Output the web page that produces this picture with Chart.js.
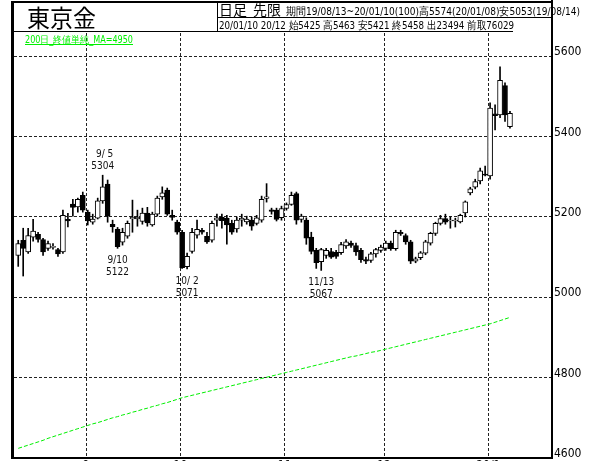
<!DOCTYPE html>
<html>
<head>
<meta charset="utf-8">
<script src="https://cdn.jsdelivr.net/npm/chart.js@4/dist/chart.umd.min.js"></script>
<style>
  html, body { margin: 0; padding: 0; background: #fff; }
  #c { display: block; }
</style>
</head>
<body>
<canvas id="c" width="590" height="461"></canvas>
<script>
// 東京金 日足 先限 19/08/13 ~ 20/01/10 (100 days)
const dates = [
  '19/08/13','19/08/14','19/08/15','19/08/16','19/08/19','19/08/20','19/08/21','19/08/22','19/08/23','19/08/26',
  '19/08/27','19/08/28','19/08/29','19/08/30','19/09/02','19/09/03','19/09/04','19/09/05','19/09/06','19/09/09',
  '19/09/10','19/09/11','19/09/12','19/09/13','19/09/17','19/09/18','19/09/19','19/09/20','19/09/24','19/09/25',
  '19/09/26','19/09/27','19/09/30','19/10/01','19/10/02','19/10/03','19/10/04','19/10/07','19/10/08','19/10/09',
  '19/10/10','19/10/11','19/10/15','19/10/16','19/10/17','19/10/18','19/10/21','19/10/23','19/10/24','19/10/25',
  '19/10/28','19/10/29','19/10/30','19/10/31','19/11/01','19/11/05','19/11/06','19/11/07','19/11/08','19/11/11',
  '19/11/12','19/11/13','19/11/14','19/11/15','19/11/18','19/11/19','19/11/20','19/11/21','19/11/22','19/11/25',
  '19/11/26','19/11/27','19/11/28','19/11/29','19/12/02','19/12/03','19/12/04','19/12/05','19/12/06','19/12/09',
  '19/12/10','19/12/11','19/12/12','19/12/13','19/12/16','19/12/17','19/12/18','19/12/19','19/12/20','19/12/23',
  '19/12/24','19/12/25','19/12/26','19/12/27','19/12/30','20/01/06','20/01/07','20/01/08','20/01/09','20/01/10'
];

const opens = [
  5104,5142,5113,5150,5157,5144,5122,5124,5119,5113, 5194,5232,5225,5254,5212,5187,5197,5240,5282,5182,
  5170,5137,5152,5195,5195,5189,5210,5180,5207,5250, 5267,5204,5187,5162,5076,5114,5155,5167,5152,5142,
  5192,5199,5197,5184,5170,5192,5188,5192,5184,5192, 5246,5218,5217,5198,5221,5231,5258,5194,5192,5150,
  5117,5089,5104,5114,5112,5111,5128,5135,5129,5117, 5094,5092,5108,5117,5122,5135,5121,5162,5154,5138,
  5090,5099,5110,5135,5159,5184,5196,5190,5190,5188, 5210,5260,5274,5290,5307,5302,5457,5454,5527,5425
];
const highs = [
  5142,5172,5172,5194,5162,5147,5140,5134,5122,5217, 5209,5244,5247,5262,5217,5207,5247,5304,5292,5192,
  5174,5172,5190,5242,5217,5222,5224,5212,5252,5275, 5272,5217,5192,5167,5110,5172,5192,5172,5162,5190,
  5207,5207,5204,5192,5200,5207,5202,5200,5204,5252, 5283,5222,5222,5227,5235,5262,5262,5207,5198,5162,
  5122,5122,5122,5122,5117,5137,5144,5140,5135,5122, 5100,5112,5122,5130,5140,5140,5167,5167,5158,5142,
  5100,5114,5142,5162,5187,5204,5207,5200,5197,5207, 5240,5274,5294,5322,5327,5484,5479,5574,5534,5463
];
const lows = [
  5077,5053,5109,5140,5137,5104,5117,5120,5102,5109, 5175,5202,5212,5212,5180,5182,5195,5234,5187,5162,
  5122,5130,5147,5162,5177,5182,5177,5177,5202,5244, 5204,5192,5157,5072,5071,5110,5147,5157,5134,5137,
  5177,5172,5132,5157,5162,5177,5182,5167,5180,5187, 5237,5207,5190,5192,5217,5229,5182,5187,5132,5108,
  5072,5067,5097,5097,5097,5107,5122,5124,5104,5087, 5084,5087,5100,5112,5117,5117,5117,5154,5132,5084,
  5086,5094,5106,5130,5154,5180,5182,5172,5175,5185, 5200,5255,5270,5282,5302,5294,5417,5447,5438,5421
];
const closes = [
  5134,5122,5154,5165,5144,5113,5134,5127,5108,5204, 5190,5224,5244,5217,5190,5195,5240,5275,5202,5175,
  5126,5162,5184,5199,5200,5210,5185,5207,5247,5260, 5207,5199,5162,5074,5102,5162,5169,5162,5138,5184,
  5198,5191,5180,5162,5192,5197,5195,5177,5198,5244, 5250,5214,5194,5221,5231,5254,5192,5202,5147,5114,
  5086,5119,5117,5100,5102,5131,5138,5129,5113,5094, 5090,5108,5119,5125,5135,5121,5162,5158,5138,5090,
  5096,5111,5138,5159,5184,5196,5187,5192,5192,5204, 5238,5270,5288,5315,5304,5471,5452,5540,5454,5458
];
// 200日 終値単純移動平均
const ma200 = [
  4624,4628,4632,4636,4640,4644,4649,4653,4657,4661,4665,4669,4673,4677,4681,
  4685,4688,4692,4696,4700,4703,4707,4710,4714,4717,4721,4724,4728,4731,4735,4738,4742,4746,4750,
  4753,4756,4759,4762,4765,4768,4771,4774,4777,4780,4783,4786,4789,4792,4795,4798,4801,4804,4807,4810,4813,
  4816,4819,4822,4825,4828,4831,4834,4837,4840,4843,4846,4849,4852,4854,4857,4860,4863,4865,4868,4871,
  4874,4877,4880,4883,4886,4889,4892,4895,4898,4901,4904,4907,4910,4913,4916,4919,4922,4925,4928,4931,4934,
  4938,4942,4946,4950
];

// month boundaries (index of first trading day) and their labels
const monthStarts = [14, 33, 54, 74, 95];
const monthLabels = ['9', '10', '11', '12', '20/1'];
const yTicks = [4600, 4800, 5000, 5200, 5400, 5600];

// marked highs / lows
const marks = [
  { i: 17, date: '9/ 5', value: 5304, above: true },
  { i: 20, date: '9/10', value: 5122, above: false },
  { i: 34, date: '10/ 2', value: 5071, above: false },
  { i: 61, date: '11/13', value: 5067, above: false }
];

const NARROW = "'Liberation Sans Narrow', 'DejaVu Sans Condensed', 'Liberation Sans', sans-serif";
const JP = "'Noto Sans CJK JP', 'Noto Sans', sans-serif";
const MA_GREEN = '#00f000';

const bodyData = opens.map((o, i) => ({ x: i, y: [o, closes[i]] }));
const wickData = highs.map((h, i) => ({ x: i, y: [lows[i], h] }));
const maData = ma200.map((v, i) => ({ x: i, y: v }));

const sheet = {
    id: 'sheet',
    beforeDraw(chart) {
        const ctx = chart.ctx;
        ctx.save();
        ctx.fillStyle = '#fff';
        ctx.fillRect(0, 0, chart.width, chart.height);
        ctx.restore();
    },
    afterDraw(chart) {
        const ctx = chart.ctx;
        const { left, right, bottom } = chart.chartArea;
        const xs = chart.scales.x;
        const ys = chart.scales.y;
        ctx.save();

        // frame
        ctx.fillStyle = '#000';
        ctx.fillRect(left - 3, 1, 3, bottom);              // left
        ctx.fillRect(right, 0, 2, bottom + 1);            // right
        ctx.fillRect(left - 3, bottom - 1, right - left + 5, 2); // bottom
        ctx.fillRect(left - 3, 1, right - left + 5, 2);   // top
        ctx.fillRect(left - 3, 31, 502, 1);               // header bottom
        ctx.fillRect(217, 2, 1, 30);                      // header divider
        ctx.fillRect(218, 17, right - 218, 1);            // row 1 underline

        // header texts
        ctx.textBaseline = 'alphabetic';
        ctx.textAlign = 'left';
        ctx.font = '24px ' + JP;
        ctx.fillText('東京金', 27, 27, 69);
        ctx.font = '14px ' + JP;
        ctx.fillText('日足  先限', 219, 15, 62);
        ctx.font = '11px ' + NARROW;
        ctx.fillText('期間19/08/13~20/01/10(100)高5574(20/01/08)安5053(19/08/14)', 286, 15, 294);
        ctx.fillText('20/01/10 20/12 始5425 高5463 安5421 終5458 出23494 前取76029', 219, 29, 295);

        // MA caption
        ctx.fillStyle = MA_GREEN;
        ctx.font = '10px ' + NARROW;
        ctx.fillText('200日_終値単純_MA=4950', 25, 43, 108);
        ctx.fillRect(25, 44, 108, 1);

        // high / low marks
        ctx.fillStyle = '#111';
        ctx.font = '10px ' + NARROW;
        ctx.textAlign = 'center';
        marks.forEach(m => {
            const x = xs.getPixelForValue(m.i);
            const y = ys.getPixelForValue(m.value);
            if (m.above) {
                ctx.fillText(m.date, x + 2, y - 18);
                ctx.fillText(String(m.value), x, y - 6);
            } else {
                ctx.fillText(m.date, x, y + 15);
                ctx.fillText(String(m.value), x, y + 27);
            }
        });
        ctx.restore();
    }
};

new Chart(document.getElementById('c'), {
    type: 'bar',
    data: {
        datasets: [
            {
                label: 'body',
                data: bodyData,
                order: 0,
                grouped: false,
                barThickness: 5,
                minBarLength: 1,
                borderWidth: 1,
                borderSkipped: false,
                borderColor: '#000',
                backgroundColor: bodyData.map(d => d.y[1] >= d.y[0] ? '#fff' : '#000')
            },
            {
                label: 'wick',
                data: wickData,
                order: 1,
                grouped: false,
                barThickness: 1,
                borderWidth: 0,
                backgroundColor: '#000'
            },
            {
                type: 'line',
                label: 'MA200',
                data: maData,
                order: 2,
                borderColor: MA_GREEN,
                borderWidth: 1,
                borderDash: [4, 2],
                pointRadius: 0,
                tension: 0
            }
        ]
    },
    options: {
        responsive: false,
        animation: false,
        events: [],
        layout: { padding: { top: 33, left: 14, right: 0, bottom: 0 } },
        plugins: {
            legend: { display: false },
            tooltip: { enabled: false }
        },
        scales: {
            x: {
                type: 'linear',
                offset: false,
                min: -0.85,
                max: 107.26,
                afterFit: axis => {
                    axis.height = 3;
                    axis.paddingLeft = 0;
                    axis.paddingRight = 0;
                },
                afterBuildTicks: axis => {
                    axis.ticks = monthStarts.map(v => ({ value: v - 0.35 }));
                },
                ticks: {
                    autoSkip: false,
                    maxRotation: 0,
                    padding: 1,
                    color: '#000',
                    font: { family: NARROW, size: 12 },
                    callback: (v, idx) => monthLabels[idx]
                },
                grid: {
                    offset: false,
                    color: '#222',
                    lineWidth: 1,
                    drawTicks: false
                },
                border: { display: false, dash: [3, 2] }
            },
            y: {
                position: 'right',
                min: 4600,
                max: 5658,
                afterFit: axis => {
                    axis.width = 39;
                    axis.paddingTop = 0;
                    axis.paddingBottom = 0;
                },
                afterBuildTicks: axis => {
                    axis.ticks = yTicks.map(v => ({ value: v }));
                },
                ticks: {
                    padding: 3,
                    labelOffset: -4,
                    color: '#000',
                    font: { family: NARROW, size: 12 },
                    callback: v => String(v)
                },
                grid: {
                    color: '#222',
                    lineWidth: 1,
                    drawTicks: false
                },
                border: { display: false, dash: [3, 2] }
            }
        }
    },
    plugins: [sheet]
});
</script>
</body>
</html>
